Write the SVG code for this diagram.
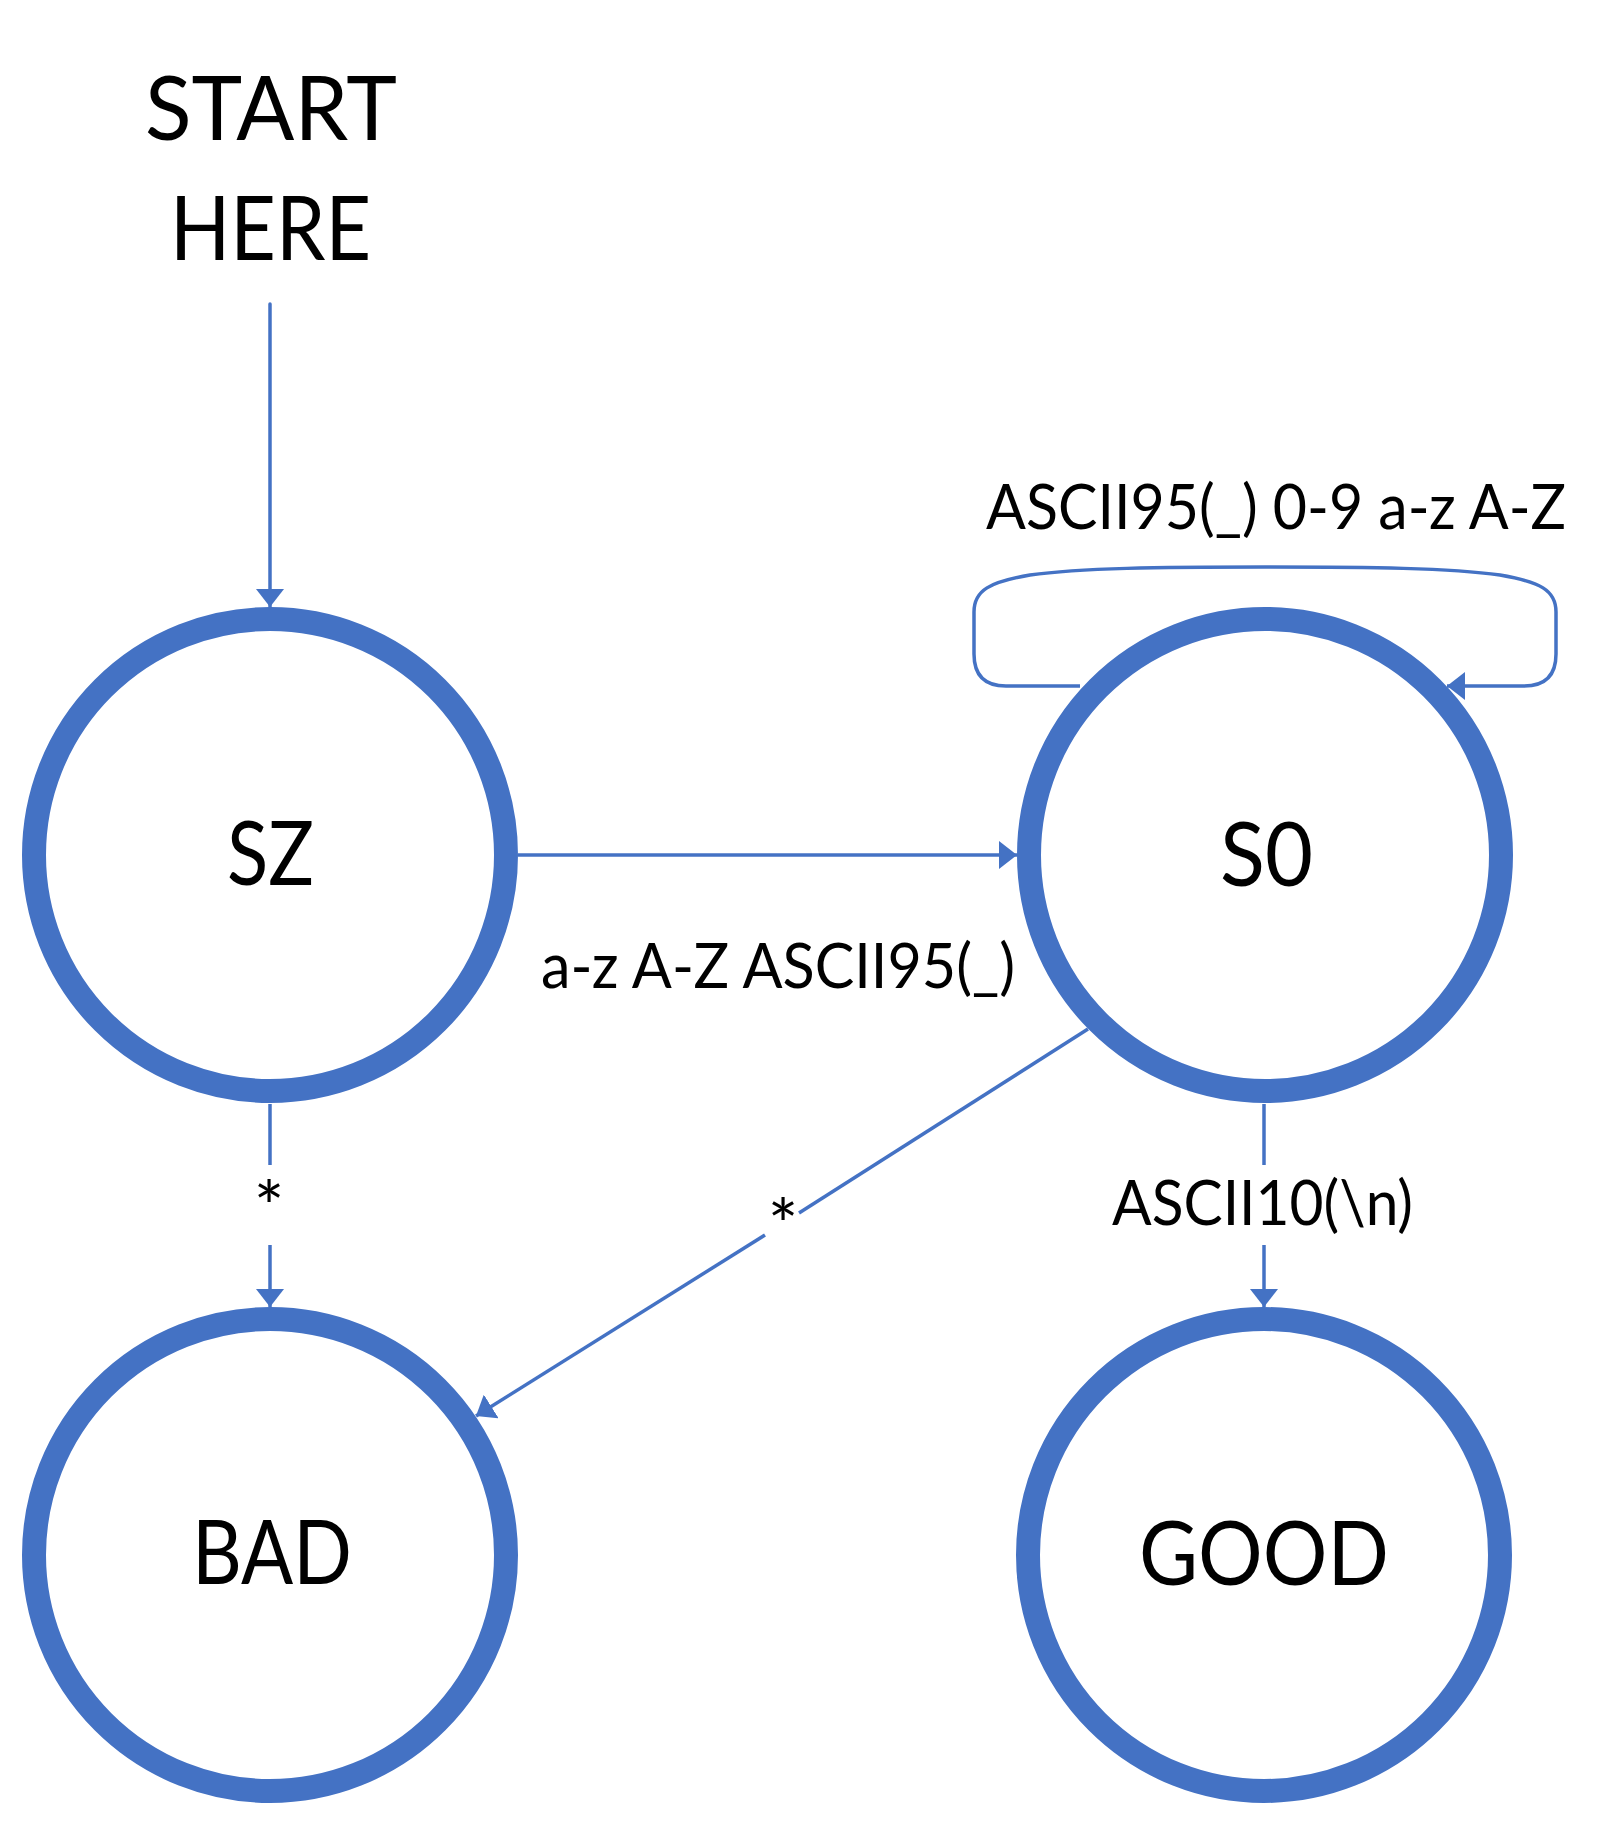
<svg xmlns="http://www.w3.org/2000/svg" width="1619" height="1825" viewBox="0 0 1619 1825">
  <style>
    .node { fill: #FFFFFF; stroke: #4472C4; stroke-width: 24; }
    .big { font-family: Lato, "Open Sans", "Liberation Sans", sans-serif; font-size: 89px; fill: #000000; text-anchor: middle; }
    .lbl { font-family: Lato, "Open Sans", "Liberation Sans", sans-serif; font-size: 61px; fill: #000000; text-anchor: middle; }
    .star { font-family: Lato, "Open Sans", "Liberation Sans", sans-serif; font-size: 72px; fill: #000000; text-anchor: middle; }
    .edge { fill: none; stroke: #4472C4; stroke-width: 3.5; }
  </style>
  <defs>
    <marker id="arrow" markerUnits="userSpaceOnUse" markerWidth="18" markerHeight="28" refX="18" refY="14" orient="auto">
      <path d="M0,0 L18,14 L0,28 Z" fill="#4472C4"/>
    </marker>
  </defs>
  <rect width="1619" height="1825" fill="#FFFFFF"/>

  <g id="start">
    <text class="big" x="271" y="140" textLength="252" lengthAdjust="spacingAndGlyphs">START</text>
    <text class="big" x="270.5" y="260" textLength="201" lengthAdjust="spacingAndGlyphs">HERE</text>
  </g>

  <g id="node-SZ">
    <circle class="node" cx="270" cy="855" r="236"/>
    <text class="big" x="270.5" y="885" textLength="87" lengthAdjust="spacingAndGlyphs">SZ</text>
  </g>
  <g id="node-S0">
    <circle class="node" cx="1265" cy="855" r="236"/>
    <text class="big" x="1266.5" y="886" textLength="93" lengthAdjust="spacingAndGlyphs">S0</text>
  </g>
  <g id="node-BAD">
    <circle class="node" cx="270" cy="1555" r="236"/>
    <text class="big" x="272" y="1584" textLength="160" lengthAdjust="spacingAndGlyphs">BAD</text>
  </g>
  <g id="node-GOOD">
    <circle class="node" cx="1264" cy="1555" r="236"/>
    <text class="big" x="1264" y="1585" textLength="250" lengthAdjust="spacingAndGlyphs">GOOD</text>
  </g>

  <g id="connectors">
    <line class="edge" x1="270" y1="304" x2="270" y2="607" stroke-linecap="round" marker-end="url(#arrow)"/>

    <line class="edge" x1="518" y1="855" x2="1017" y2="855" marker-end="url(#arrow)"/>
    <text class="lbl" x="778" y="988" textLength="474" lengthAdjust="spacingAndGlyphs">a-z A-Z ASCII95(_)</text>

    <path class="edge" d="M1080,686 L1006,686 Q974,686 974,654 L974,612 C974,590 990,582 1030,575 C1080,568 1160,567 1265,567 C1370,567 1450,568 1500,575 C1540,582 1556,590 1556,612 L1556,654 Q1556,686 1524,686 L1447,686" marker-end="url(#arrow)"/>
    <text class="lbl" x="1276" y="529" textLength="580" lengthAdjust="spacingAndGlyphs">ASCII95(_) 0-9 a-z A-Z</text>

    <line class="edge" x1="270" y1="1104" x2="270" y2="1165"/>
    <line class="edge" x1="270" y1="1245" x2="270" y2="1307" marker-end="url(#arrow)"/>
    <text class="star" x="269" y="1233">*</text>

    <line class="edge" x1="1088" y1="1029" x2="799" y2="1213"/>
    <line class="edge" x1="765" y1="1235" x2="476" y2="1416" marker-end="url(#arrow)"/>
    <text class="star" x="783" y="1251">*</text>

    <line class="edge" x1="1264" y1="1104" x2="1264" y2="1165"/>
    <line class="edge" x1="1264" y1="1245" x2="1264" y2="1307" marker-end="url(#arrow)"/>
    <text class="lbl" x="1262.5" y="1225" textLength="301" lengthAdjust="spacingAndGlyphs">ASCII10(\n)</text>
  </g>
</svg>
